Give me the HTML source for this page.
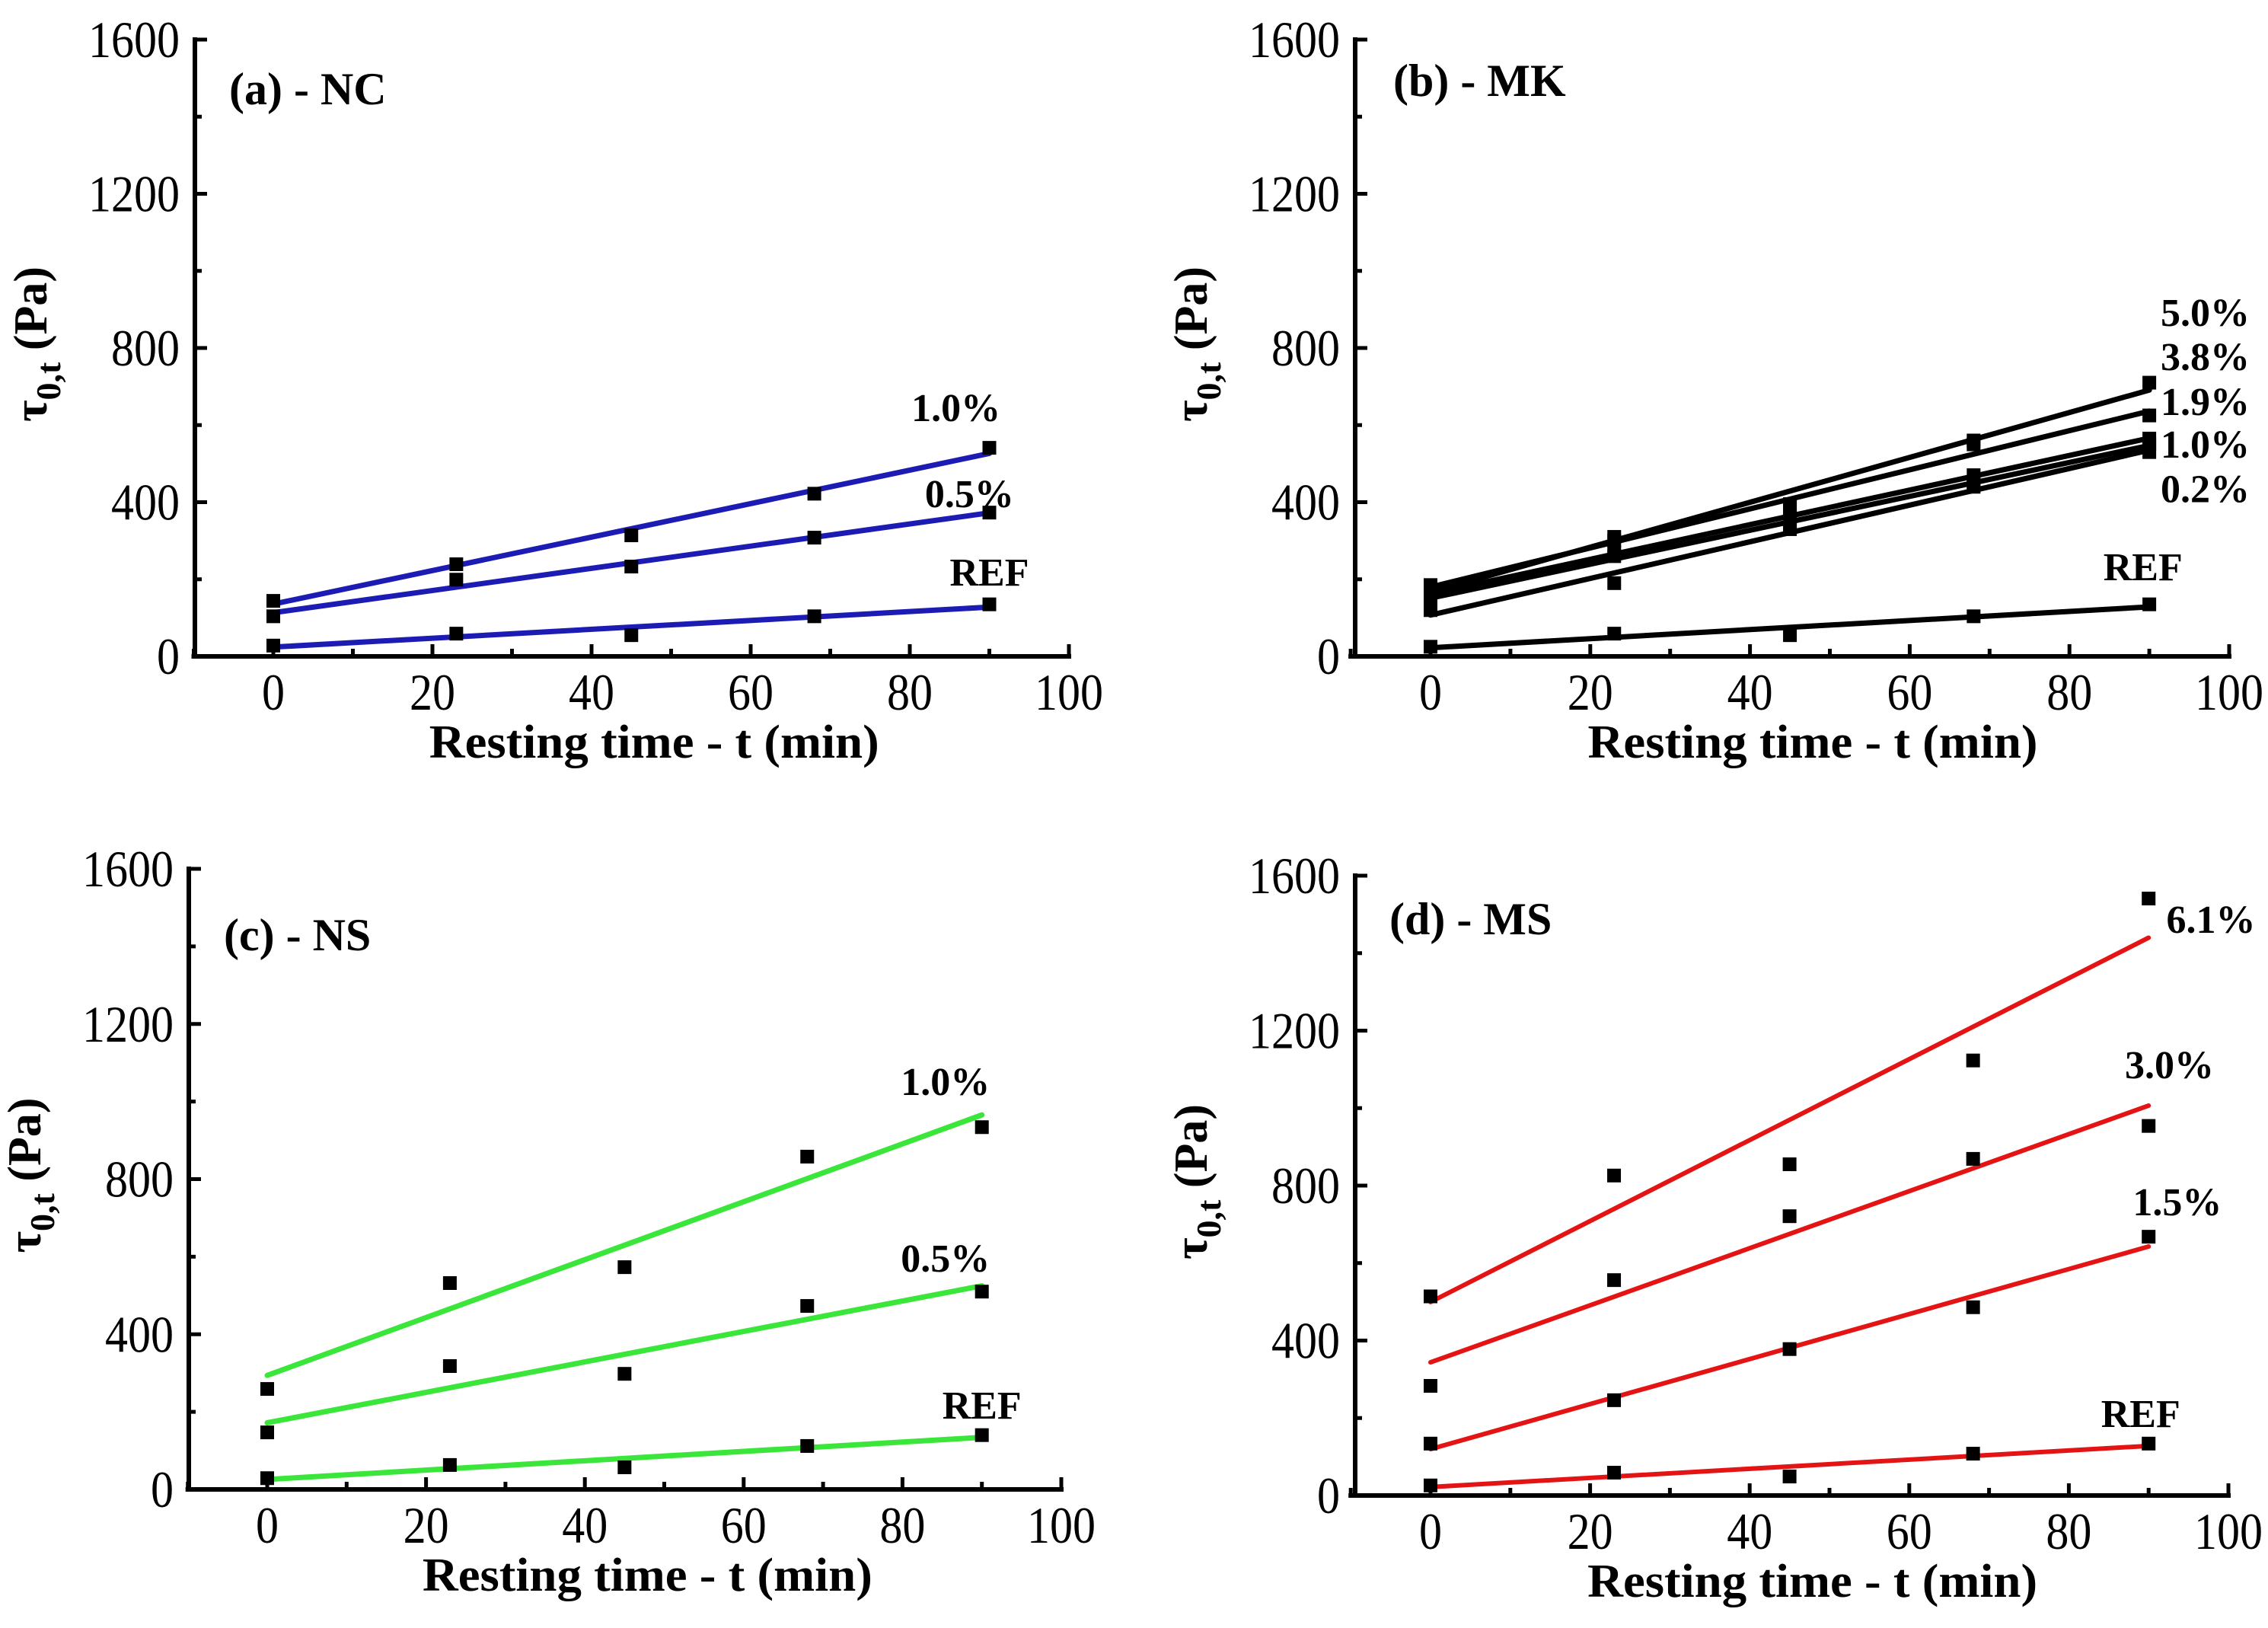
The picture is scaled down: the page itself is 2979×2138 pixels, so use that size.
<!DOCTYPE html>
<html><head><meta charset="utf-8">
<style>
html,body{margin:0;padding:0;background:#fff;}
svg{display:block;}
text{font-family:"Liberation Serif",serif;fill:#000;}
</style></head>
<body>
<svg id="fig" width="2979" height="2138" viewBox="0 0 2979 2138" xmlns="http://www.w3.org/2000/svg">
<rect x="0" y="0" width="2979" height="2138" fill="#fff"/>
</svg>
<script>
const times = [0, 23, 45, 68, 90];
const xTicks = [0, 20, 40, 60, 80, 100];
const yTicks = [0, 400, 800, 1200, 1600];

const ncREF = [28, 59, 55, 104, 135];
const nc05 = [104, 199, 233, 308, 373];
const nc10 = [144, 239, 314, 422, 541];

const mkREF = [25, 59, 55, 104, 135];
const mk02 = [120, 190, 330, 440, 530];
const mk10 = [150, 260, 340, 450, 550];
const mk19 = [160, 270, 360, 470, 565];
const mk38 = [175, 310, 385, 550, 625];
const mk50 = [185, 300, 395, 560, 710];

const nsREF = [29, 63, 57, 112, 140];
const ns05 = [147, 318, 298, 473, 510];
const ns10 = [259, 532, 573, 858, 934];

const msREF = [26, 59, 49, 108, 134];
const ms15 = [134, 246, 378, 486, 668];
const ms30 = [283, 556, 721, 869, 954];
const ms61 = [514, 826, 855, 1123, 1541];

const panels = [
  {name:'panel-a-nc', title:'(a) - NC', color:'#1c1cb4', lw:7, axisX:256, x0:359, x100:1404, y0:862, y1600:52, titleX:301, titleY:117,
   series:[{n:'REF',v:ncREF,lt:90,lv:219},{n:'0.5%',v:nc05,lt:87.5,lv:423},{n:'1.0%',v:nc10,lt:85.8,lv:646}]},
  {name:'panel-b-mk', title:'(b) - MK', color:'#000000', lw:7, axisX:1780, x0:1879, x100:2928, y0:862, y1600:52, titleX:1830, titleY:106,
   series:[{n:'REF',v:mkREF,lt:89.2,lv:233},{n:'0.2%',v:mk02,lt:97,lv:436},{n:'1.0%',v:mk10,lt:97,lv:551},{n:'1.9%',v:mk19,lt:97,lv:662},{n:'3.8%',v:mk38,lt:97,lv:778},{n:'5.0%',v:mk50,lt:97,lv:893}]},
  {name:'panel-c-ns', title:'(c) - NS', color:'#3ae63a', lw:7, axisX:248, x0:351, x100:1394, y0:1956, y1600:1141, titleX:294, titleY:1228,
   series:[{n:'REF',v:nsREF,lt:90,lv:218},{n:'0.5%',v:ns05,lt:85.4,lv:597},{n:'1.0%',v:ns10,lt:85.4,lv:1052}]},
  {name:'panel-d-ms', title:'(d) - MS', color:'#e41414', lw:6, axisX:1780, x0:1879, x100:2927, y0:1964, y1600:1150, titleX:1825, titleY:1207,
   series:[{n:'REF',v:msREF,lt:89,lv:212},{n:'1.5%',v:ms15,lt:93.6,lv:759},{n:'3.0%',v:ms30,lt:92.6,lv:1113},{n:'6.1%',v:ms61,lt:97.8,lv:1488}]}
];

const NS = 'http://www.w3.org/2000/svg';
const svg = document.getElementById('fig');
function el(tag, attrs, parent){
  const e = document.createElementNS(NS, tag);
  for (const k in attrs) e.setAttribute(k, attrs[k]);
  parent.appendChild(e);
  return e;
}
function fit(xs, ys){
  const n = xs.length;
  const mx = xs.reduce((a,b)=>a+b,0)/n, my = ys.reduce((a,b)=>a+b,0)/n;
  let sxy=0, sxx=0;
  for (let i=0;i<n;i++){ sxy+=(xs[i]-mx)*(ys[i]-my); sxx+=(xs[i]-mx)*(xs[i]-mx); }
  const b = sxy/sxx; return {a: my-b*mx, b: b};
}

panels.forEach(p => {
  const g = el('g', {}, svg);
  
  
  const sx = t => p.x0 + (p.x100 - p.x0) * t / 100;
  const sy = v => p.y0 - (p.y0 - p.y1600) * v / 1600;
  const xLeft = sx(-10), xRight = sx(100);

  const xa = el('line', {x1:xLeft-3, y1:p.y0, x2:xRight+3, y2:p.y0, stroke:'#000', 'stroke-width':6}, g);
  
  
  const ya = el('line', {x1:p.axisX, y1:p.y0+3, x2:p.axisX, y2:sy(1600)-3, stroke:'#000', 'stroke-width':6}, g);
  
  

  for (let t = -10; t <= 100; t += 10) {
    const major = (t % 20 === 0);
    const tk = el('line', {x1:sx(t), y1:p.y0, x2:sx(t), y2:p.y0-(major?16:10), stroke:'#000', 'stroke-width':5}, g);
    
    
  }
  xTicks.forEach(t => {
    const s = String(t);
    const tx = el('text', {x:sx(t), y:p.y0+70, 'font-size':68, 'text-anchor':'middle', textLength:s.length*30, lengthAdjust:'spacingAndGlyphs'}, g);
    tx.textContent = s;
    
    
  });
  for (let v = 0; v <= 1600; v += 200) {
    const major = (v % 400 === 0);
    const tk = el('line', {x1:p.axisX, y1:sy(v), x2:p.axisX+(major?16:9), y2:sy(v), stroke:'#000', 'stroke-width':5}, g);
    
    
  }
  yTicks.forEach(v => {
    const s = String(v);
    const tx = el('text', {x:p.axisX-20, y:sy(v)+23, 'font-size':68, 'text-anchor':'end', textLength:s.length*30, lengthAdjust:'spacingAndGlyphs'}, g);
    tx.textContent = s;
    
    
  });

  const xt = el('text', {x:(sx(-10)+sx(100))/2 + 30, y:p.y0+133, 'font-size':62, 'font-weight':'bold', 'text-anchor':'middle', textLength:591, lengthAdjust:'spacingAndGlyphs'}, g);
  xt.textContent = 'Resting time - t (min)';
  
  
  const ycx = p.axisX - 195, ycy = (p.y0 + p.y1600)/2 - 5;
  const yt = el('text', {x:ycx, y:ycy, 'font-size':62, 'font-weight':'bold', 'text-anchor':'middle', transform:'rotate(-90 '+ycx+' '+ycy+')'}, g);
  
  
  const t1 = el('tspan', {}, yt); t1.textContent = 'τ';
  const t2 = el('tspan', {dy:18, 'font-size':46}, yt); t2.textContent = '0,t';
  const t3 = el('tspan', {dy:-18}, yt); t3.textContent = ' (Pa)';

  const pt = el('text', {x:p.titleX, y:p.titleY+20, 'font-size':60, 'font-weight':'bold'}, g);
  pt.textContent = p.title;
  
  

  p.series.forEach(s => {
    const sg = el('g', {}, g);
    
    
    const f = fit(times, s.v);
    const ln = el('line', {x1:sx(0), y1:sy(f.a), x2:sx(90), y2:sy(f.a + f.b*90), stroke:p.color, 'stroke-width':p.lw, 'stroke-linecap':'round'}, sg);
    
    
    times.forEach((t, i) => {
      const r = el('rect', {x:sx(t)-9, y:sy(s.v[i])-9, width:18, height:18, fill:'#000'}, sg);
      
      
    });
    const lb = el('text', {x:sx(s.lt), y:sy(s.lv)+18, 'font-size':52, 'font-weight':'bold', 'text-anchor':'middle'}, sg);
    lb.textContent = s.n;
    
    
  });
});
</script>
</body></html>
